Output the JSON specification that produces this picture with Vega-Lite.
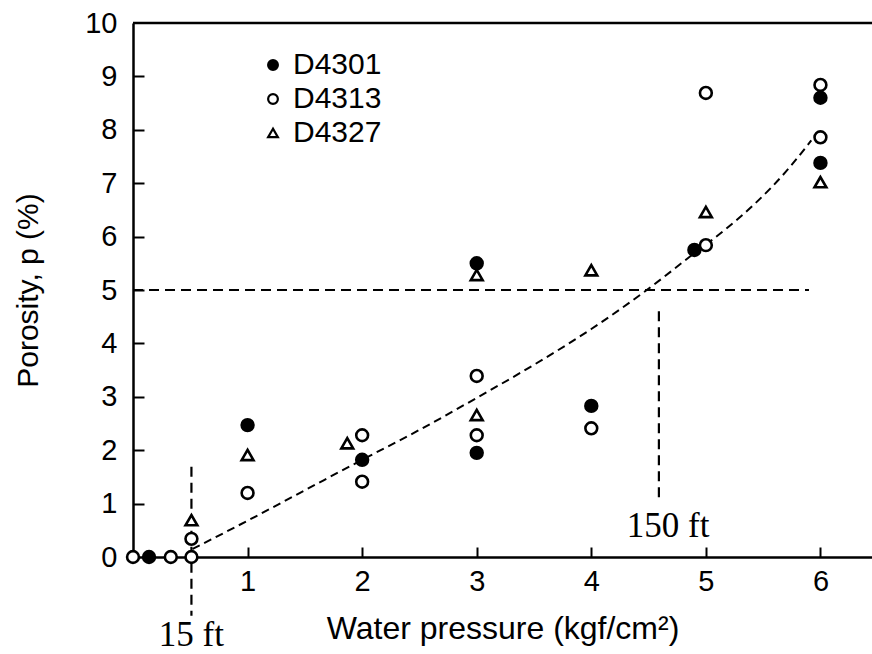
{
  "$schema": "https://vega.github.io/schema/vega-lite/v6.json",
  "width": 739,
  "height": 534,
  "autosize": {"type": "none"},
  "padding": {"left": 133, "top": 23, "right": 0, "bottom": 97},
  "config": {
    "view": {"stroke": null},
    "font": "Liberation Sans",
    "axis": {
      "grid": false,
      "domainColor": "black",
      "domainWidth": 2.5,
      "tickColor": "black",
      "tickWidth": 2,
      "tickSize": 10,
      "labelColor": "black",
      "labelFont": "Liberation Sans",
      "labelFontSize": 29,
      "titleFont": "Liberation Sans",
      "titleFontSize": 30,
      "titleFontWeight": "normal",
      "titleColor": "black",
      "labelFlush": false
    },
    "legend": {
      "orient": "none",
      "legendX": 125,
      "legendY": 27,
      "labelFontSize": 30,
      "labelColor": "black",
      "labelFont": "Liberation Sans",
      "symbolSize": 95,
      "symbolStrokeWidth": 2.2,
      "padding": 0,
      "rowPadding": 4,
      "labelOffset": 5
    }
  },
  "resolve": {"axis": {"x": "independent", "y": "independent"}},
  "datasets": {
    "points": [
      {"series": "D4313", "p": 0, "por": 0},
      {"series": "D4313", "p": 0.33, "por": 0},
      {"series": "D4313", "p": 0.51, "por": 0},
      {"series": "D4313", "p": 0.51, "por": 0.34},
      {"series": "D4313", "p": 1, "por": 1.2},
      {"series": "D4313", "p": 2, "por": 2.28},
      {"series": "D4313", "p": 2, "por": 1.41},
      {"series": "D4313", "p": 3, "por": 3.39},
      {"series": "D4313", "p": 3, "por": 2.28},
      {"series": "D4313", "p": 4, "por": 2.41},
      {"series": "D4313", "p": 5, "por": 8.69},
      {"series": "D4313", "p": 5, "por": 5.84},
      {"series": "D4313", "p": 6, "por": 8.84},
      {"series": "D4313", "p": 6, "por": 7.86},
      {"series": "D4301", "p": 0.14, "por": 0},
      {"series": "D4301", "p": 1, "por": 2.47},
      {"series": "D4301", "p": 2, "por": 1.82},
      {"series": "D4301", "p": 3, "por": 1.95},
      {"series": "D4301", "p": 3, "por": 5.5},
      {"series": "D4301", "p": 4, "por": 2.83},
      {"series": "D4301", "p": 4.9, "por": 5.75},
      {"series": "D4301", "p": 6, "por": 8.6},
      {"series": "D4301", "p": 6, "por": 7.38},
      {"series": "D4327", "p": 0.51, "por": 0.69},
      {"series": "D4327", "p": 1, "por": 1.91},
      {"series": "D4327", "p": 1.87, "por": 2.13},
      {"series": "D4327", "p": 3, "por": 2.66},
      {"series": "D4327", "p": 3, "por": 5.28},
      {"series": "D4327", "p": 4, "por": 5.37},
      {"series": "D4327", "p": 5, "por": 6.46},
      {"series": "D4327", "p": 6, "por": 7.02}
    ],
    "curve": [
      {"p": 0.52, "por": 0.15},
      {"p": 1.0, "por": 0.68},
      {"p": 1.5, "por": 1.25},
      {"p": 2.0, "por": 1.82},
      {"p": 2.5, "por": 2.38},
      {"p": 3.0, "por": 2.98},
      {"p": 3.5, "por": 3.6},
      {"p": 4.0, "por": 4.27},
      {"p": 4.46, "por": 4.96},
      {"p": 4.87, "por": 5.64},
      {"p": 5.19, "por": 6.17},
      {"p": 5.42, "por": 6.6},
      {"p": 5.7, "por": 7.22},
      {"p": 5.92, "por": 7.8}
    ],
    "refs": [
      {"x": 0, "x2": 5.9, "y": 5, "y2": 5},
      {"x": 4.59, "x2": 4.59, "y": 4.6, "y2": 1.1},
      {"x": 0.51, "x2": 0.51, "y": 1.69, "y2": -1.1}
    ],
    "frame": [
      {"x": 0, "x2": 6.45, "y": 10}
    ],
    "labels": [
      {"x": 0.51, "y": -1.66, "label": "15 ft"},
      {"x": 4.67, "y": 0.37, "label": "150 ft"}
    ]
  },
  "layer": [
    {
      "data": {"name": "frame"},
      "mark": {"type": "rule", "color": "black", "strokeWidth": 2.5},
      "encoding": {
        "x": {"field": "x", "type": "quantitative", "scale": {"domain": [0, 6.45], "nice": false, "zero": false},
              "axis": {"orient": "bottom", "title": "Water pressure (kgf/cm²)", "titleFontSize": 32, "values": [1, 2, 3, 4, 5, 6], "format": "d", "ticks": false, "labelPadding": 10, "titleY": 81, "titleBaseline": "alphabetic"}},
        "x2": {"field": "x2"},
        "y": {"field": "y", "type": "quantitative", "scale": {"domain": [0, 10], "nice": false, "zero": false},
              "axis": {"orient": "left", "title": "Porosity, p (%)", "values": [0, 1, 2, 3, 4, 5, 6, 7, 8, 9, 10], "format": "d", "ticks": false, "labelPadding": 16, "titleX": -96, "titleY": 267, "titleAngle": -90, "titleAlign": "center", "titleBaseline": "alphabetic"}}
      }
    },
    {
      "data": {"name": "refs"},
      "mark": {"type": "rule", "color": "black", "strokeWidth": 2.2, "strokeDash": [10, 6], "clip": false},
      "encoding": {
        "x": {"field": "x", "type": "quantitative",
              "axis": {"orient": "top", "offset": -534, "values": [1, 2, 3, 4, 5, 6], "labels": false, "domain": false, "title": null, "tickSize": 10}},
        "x2": {"field": "x2"},
        "y": {"field": "y", "type": "quantitative",
              "axis": {"orient": "right", "offset": -739, "values": [1, 2, 3, 4, 5, 6, 7, 8, 9], "labels": false, "domain": false, "title": null, "tickSize": 11}},
        "y2": {"field": "y2"}
      }
    },
    {
      "data": {"name": "curve"},
      "mark": {"type": "line", "color": "black", "strokeWidth": 2, "strokeDash": [8, 5], "interpolate": "monotone"},
      "encoding": {
        "x": {"field": "p", "type": "quantitative", "axis": null},
        "y": {"field": "por", "type": "quantitative", "axis": null}
      }
    },
    {
      "data": {"name": "points"},
      "mark": {"type": "point", "strokeWidth": 2.6, "size": 140, "opacity": 1},
      "encoding": {
        "x": {"field": "p", "type": "quantitative", "axis": null},
        "y": {"field": "por", "type": "quantitative", "axis": null},
        "stroke": {"value": "black"},
        "shape": {"field": "series", "type": "nominal",
                  "scale": {"domain": ["D4301", "D4313", "D4327"], "range": ["circle", "circle", "triangle-up"]},
                  "legend": {"title": null}},
        "fill": {"field": "series", "type": "nominal",
                 "scale": {"domain": ["D4301", "D4313", "D4327"], "range": ["black", "white", "white"]},
                 "legend": {"title": null}}
      }
    },
    {
      "data": {"name": "labels"},
      "mark": {"type": "text", "font": "Liberation Serif", "fontSize": 35, "color": "black", "align": "center", "baseline": "alphabetic", "clip": false},
      "encoding": {
        "x": {"field": "x", "type": "quantitative", "axis": null},
        "y": {"field": "y", "type": "quantitative", "axis": null},
        "text": {"field": "label"}
      }
    }
  ]
}
